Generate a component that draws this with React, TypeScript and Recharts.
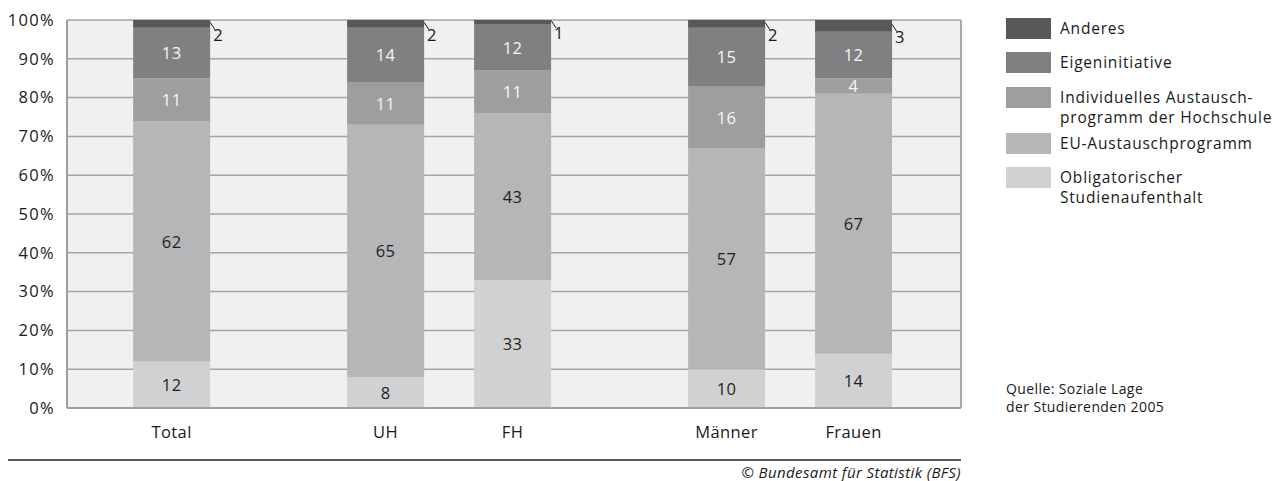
import React from 'react';
import { BarChart, Bar, XAxis, YAxis, CartesianGrid, LabelList, ReferenceLine } from 'recharts';

const categories = ['Total', 'UH', 'FH', 'Männer', 'Frauen'];
const categoryGroup = [0, 1, 1, 2, 2];
const obligatorisch = [12, 8, 33, 10, 14];
const euProgramm = [62, 65, 43, 57, 67];
const individuell = [11, 11, 11, 16, 4];
const eigeninitiative = [13, 14, 12, 15, 12];
const anderes = [2, 2, 1, 2, 3];
const yTicks = [0, 10, 20, 30, 40, 50, 60, 70, 80, 90, 100];

const seriesNames = {
  obl: 'Obligatorischer Studienaufenthalt',
  eu: 'EU-Austauschprogramm',
  ind: 'Individuelles Austausch-programm der Hochschule',
  eig: 'Eigeninitiative',
  and: 'Anderes',
};

const legendItems = [
  { key: 'and', lines: ['Anderes'] },
  { key: 'eig', lines: ['Eigeninitiative'] },
  { key: 'ind', lines: ['Individuelles Austausch-', 'programm der Hochschule'] },
  { key: 'eu', lines: ['EU-Austauschprogramm'] },
  { key: 'obl', lines: ['Obligatorischer', 'Studienaufenthalt'] },
];
const legendTops = [18, 52, 87, 133, 167];

const COLORS: Record<string, string> = {
  and: '#58585a',
  eig: '#808082',
  ind: '#9d9e9f',
  eu: '#b5b6b7',
  obl: '#d0d1d3',
};

const FONT = '"Open Sans", "Noto Sans", sans-serif';
const GROUP_GAP = 0.685;
const X_MIN = -0.824;
const X_MAX = 6.216;

const W = 1282;
const H = 481;

const positions = categories.map((_, i) => i + categoryGroup[i] * GROUP_GAP);

const data = categories.map((name, i) => ({
  name,
  pos: positions[i],
  obl: obligatorisch[i],
  eu: euProgramm[i],
  ind: individuell[i],
  eig: eigeninitiative[i],
  and: anderes[i],
}));

const nameForPos = (v: number) => {
  let best = 0;
  positions.forEach((p, i) => {
    if (Math.abs(p - v) < Math.abs(positions[best] - v)) best = i;
  });
  return categories[best];
};

const innerLabel = (color: string) => (p: any) => {
  const vb = p.viewBox || p;
  const x = Number(vb.x);
  const y = Number(vb.y);
  const w = Number(vb.width);
  const h = Number(vb.height);
  return (
    <text
      x={x + w / 2}
      y={y + h / 2}
      textAnchor="middle"
      dominantBaseline="central"
      fontSize={16.5}
      fontFamily={FONT}
      fill={color}
      style={{ letterSpacing: '0.5px' }}
    >
      {p.value}
    </text>
  );
};

const outsideLabel = (p: any) => {
  const vb = p.viewBox || p;
  const x = Number(vb.x);
  const y = Number(vb.y);
  const w = Number(vb.width);
  const h = Number(vb.height);
  const right = x + w;
  const cy = y + h / 2;
  return (
    <g>
      <line x1={right} y1={cy - 1.5} x2={right + 5} y2={cy + 6} stroke="#1a1a1a" strokeWidth={1} />
      <text
        x={right + 3}
        y={cy + 11}
        textAnchor="start"
        dominantBaseline="central"
        fontSize={16.5}
        fontFamily={FONT}
        fill="#1a1a1a"
      >
        {p.value}
      </text>
    </g>
  );
};

export default function App() {
  return (
    <div
      style={{
        position: 'absolute',
        left: 0,
        top: 0,
        width: W,
        height: H,
        background: '#ffffff',
        fontFamily: FONT,
        overflow: 'hidden',
      }}
    >
      <BarChart width={W} height={H} data={data} margin={{ top: 20, right: 321, bottom: 0, left: 7 }}>
        <CartesianGrid
          vertical={false}
          stroke="#a5a5a5"
          strokeWidth={1.5}
          fill="#eff0ef"
          fillOpacity={1}
        />
        <XAxis
          type="number"
          dataKey="pos"
          domain={[X_MIN, X_MAX]}
          ticks={positions}
          tickFormatter={nameForPos}
          allowDataOverflow
          axisLine={{ stroke: '#a0a0a0', strokeWidth: 2 }}
          tickLine={false}
          tickSize={0}
          tickMargin={18}
          height={73}
          tick={{ fill: '#1a1a1a', fontSize: 16.5, fontFamily: FONT, style: { letterSpacing: '0.4px' } }}
        />
        <YAxis
          type="number"
          domain={[0, 100]}
          ticks={yTicks}
          tickFormatter={(v: number) => `${v}%`}
          width={60}
          axisLine={{ stroke: '#a0a0a0', strokeWidth: 2 }}
          tickLine={false}
          tickSize={0}
          tickMargin={12}
          tick={{ fill: '#1a1a1a', fontSize: 16.5, fontFamily: FONT, style: { letterSpacing: '1.3px' } }}
        />
        <ReferenceLine x={X_MAX} stroke="#a8a8a8" strokeWidth={2} />
        <Bar dataKey="obl" name={seriesNames.obl} stackId="a" fill={COLORS.obl} barSize={77} isAnimationActive={false}>
          <LabelList dataKey="obl" content={innerLabel('#1e1e1e')} />
        </Bar>
        <Bar dataKey="eu" name={seriesNames.eu} stackId="a" fill={COLORS.eu} barSize={77} isAnimationActive={false}>
          <LabelList dataKey="eu" content={innerLabel('#1e1e1e')} />
        </Bar>
        <Bar dataKey="ind" name={seriesNames.ind} stackId="a" fill={COLORS.ind} barSize={77} isAnimationActive={false}>
          <LabelList dataKey="ind" content={innerLabel('#f6f6f6')} />
        </Bar>
        <Bar dataKey="eig" name={seriesNames.eig} stackId="a" fill={COLORS.eig} barSize={77} isAnimationActive={false}>
          <LabelList dataKey="eig" content={innerLabel('#f6f6f6')} />
        </Bar>
        <Bar dataKey="and" name={seriesNames.and} stackId="a" fill={COLORS.and} barSize={77} isAnimationActive={false}>
          <LabelList dataKey="and" content={outsideLabel} />
        </Bar>
      </BarChart>

      {legendItems.map((item, i) => (
        <div key={item.key}>
          <div
            style={{
              position: 'absolute',
              left: 1006,
              top: legendTops[i],
              width: 45,
              height: 21,
              background: COLORS[item.key],
            }}
          />
          <div
            style={{
              position: 'absolute',
              left: 1060,
              top: legendTops[i],
              fontSize: 15.5,
              letterSpacing: '0.8px',
              lineHeight: '20px',
              color: '#1a1a1a',
              whiteSpace: 'nowrap',
            }}
          >
            {item.lines.map((l) => (
              <div key={l}>{l}</div>
            ))}
          </div>
        </div>
      ))}

      <div
        style={{
          position: 'absolute',
          left: 1006,
          top: 380,
          fontSize: 14,
          letterSpacing: '0.4px',
          lineHeight: '18px',
          color: '#1a1a1a',
          whiteSpace: 'nowrap',
        }}
      >
        <div>Quelle: Soziale Lage</div>
        <div>der Studierenden 2005</div>
      </div>

      <div
        style={{
          position: 'absolute',
          left: 8,
          top: 459,
          width: 953,
          height: 2,
          background: '#5a5a5a',
        }}
      />
      <div
        style={{
          position: 'absolute',
          right: W - 961,
          top: 464,
          fontSize: 15,
          letterSpacing: '0.4px',
          lineHeight: '16px',
          fontStyle: 'italic',
          color: '#1a1a1a',
          whiteSpace: 'nowrap',
        }}
      >
        © Bundesamt für Statistik (BFS)
      </div>
    </div>
  );
}
